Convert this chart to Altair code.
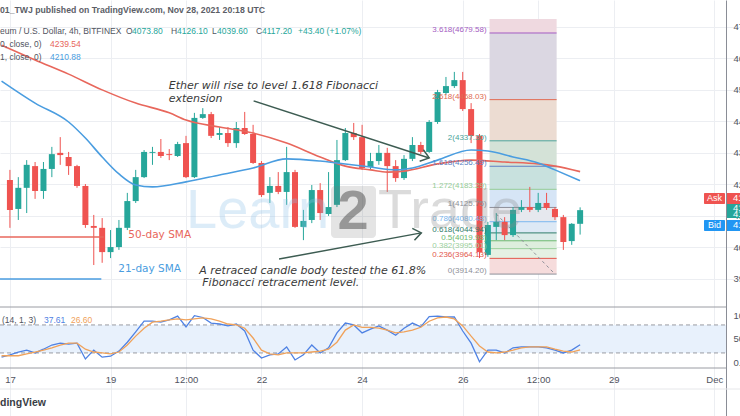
import altair as alt
import pandas as pd

# ETH/USD 4h bars (BITFINEX); bar 0 opens 2021-11-17 00:00 UTC
START = pd.Timestamp("2021-11-17 00:00")


def ts(bar):
    return (START + pd.Timedelta(hours=4 * bar)).strftime("%Y-%m-%dT%H:%M:%SZ")


opens = [4213, 4121, 4188, 4257, 4178, 4248, 4299, 4286, 4257, 4194, 4067, 4061,
         3984, 4000, 4061, 4146, 4222, 4299, 4302, 4295, 4289, 4330, 4222, 4410,
         4422, 4356, 4362, 4330, 4378, 4359, 4267, 4172, 4194, 4175, 4238, 4064,
         4086, 4181, 4105, 4134, 4276, 4362, 4349, 4254, 4273, 4299, 4257, 4219,
         4280, 4324, 4302, 4397, 4489, 4511, 4530, 4438, 4353, 3975, 4064, 4080,
         4038, 4118, 4127, 4118, 4140, 4121, 4095, 4019, 4073.8]
highs = [4245, 4222, 4276, 4270, 4270, 4318, 4349, 4302, 4261, 4200, 4102, 4092,
         4054, 4086, 4172, 4245, 4308, 4318, 4343, 4311, 4334, 4353, 4426, 4441,
         4429, 4381, 4381, 4397, 4429, 4388, 4273, 4222, 4238, 4318, 4245, 4118,
         4197, 4203, 4238, 4340, 4378, 4394, 4388, 4299, 4324, 4315, 4276, 4292,
         4349, 4334, 4403, 4499, 4540, 4556, 4556, 4457, 4359, 4080, 4108, 4095,
         4127, 4149, 4191, 4172, 4172, 4127, 4102, 4076, 4126.1]
lows = [4061, 4086, 4108, 4153, 4153, 4222, 4261, 4229, 4188, 4061, 3943, 3950,
        3965, 3991, 4054, 4140, 4219, 4261, 4283, 4276, 4286, 4219, 4219, 4407,
        4346, 4340, 4318, 4315, 4356, 4264, 4159, 4140, 4168, 4134, 4061, 4022,
        4076, 4086, 4099, 4127, 4273, 4340, 4245, 4245, 4261, 4175, 4207, 4213,
        4273, 4295, 4299, 4391, 4483, 4505, 4432, 4330, 3965, 3969, 4022, 4022,
        4032, 4111, 4111, 4111, 4118, 4086, 3991, 4007, 4039.6]
closes = [4118, 4188, 4261, 4178, 4248, 4295, 4292, 4257, 4194, 4070, 4061, 3984,
          4000, 4061, 4146, 4222, 4302, 4302, 4289, 4292, 4327, 4222, 4410, 4422,
          4353, 4362, 4330, 4378, 4359, 4267, 4165, 4194, 4175, 4238, 4064, 4083,
          4181, 4108, 4127, 4276, 4362, 4349, 4251, 4273, 4299, 4257, 4219, 4280,
          4324, 4302, 4397, 4492, 4511, 4530, 4438, 4353, 3984, 4070, 4080, 4038,
          4118, 4127, 4118, 4140, 4124, 4095, 4016, 4073.8, 4117.2]

# moving averages, sampled at bar positions
sma50_bar = [-1, 3, 7, 11, 15, 19, 21, 25, 29, 33, 37, 40, 43, 45, 47, 51, 55, 59, 63, 65, 68]
sma50 = [4641, 4594, 4549, 4499, 4457, 4426, 4403, 4381, 4362, 4330, 4286, 4257, 4245,
         4238, 4241, 4264, 4276, 4270, 4264, 4257, 4239.54]
sma21_bar = [-1, 3, 7, 9, 11, 13, 15, 17, 21, 25, 29, 33, 37, 39, 43, 46, 48, 51, 55, 57, 60, 63, 65, 68]
sma21 = [4527, 4457, 4397, 4346, 4286, 4232, 4197, 4191, 4207, 4229, 4251, 4280, 4273,
         4267, 4254, 4245, 4251, 4276, 4308, 4305, 4286, 4267, 4245, 4210.88]

# stochastic (14, 1, 3), bars -1 .. 68
stoch_k = [11, 16, 22, 26, 20, 28, 37, 41, 39, 41, 7, 26, 11, 13, 24, 43, 65, 88, 88, 86,
           91, 99, 76, 100, 96, 84, 82, 78, 82, 67, 26, 9, 16, 18, 33, 5, 16, 37, 20, 31,
           63, 84, 80, 63, 71, 78, 69, 58, 73, 84, 76, 98, 99, 97, 97, 67, 41, 1, 26, 26,
           20, 31, 33, 33, 33, 31, 26, 20, 26, 37.61]
stoch_d = [14, 14, 14, 18, 22, 26, 31, 37, 41, 41, 28, 22, 20, 18, 22, 37, 56, 73, 86, 88,
           91, 93, 91, 93, 95, 93, 88, 82, 80, 73, 52, 26, 18, 16, 20, 20, 20, 22, 24, 28,
           43, 69, 80, 75, 75, 73, 69, 63, 65, 69, 75, 88, 95, 97, 93, 78, 56, 35, 22, 20,
           22, 26, 31, 33, 33, 33, 28, 24, 22, 26.60]

# trend-based Fibonacci extension
fib_ratio = ["0", "0.236", "0.382", "0.5", "0.618", "0.786", "1", "1.272", "1.618",
             "2", "2.618", "3.618", "4.236"]
fib_price = [3914.20, 3964.13, 3995.01, 4019.98, 4044.94, 4080.48, 4125.75, 4183.29,
             4256.49, 4337.30, 4468.03, 4679.58, 4810.32]
fib_line_color = ["#8d8f98", "#e2574c", "#9bcf9c", "#6cb86f", "#2f7d6a", "#7ab6ee",
                  "#8d8f98", "#95cc96", "#5b7fc4", "#4ba39a", "#e06a52", "#a45cc2", "#e0508a"]
fib_fill = ["#f6dcdc", "#e5f1e3", "#ddeedd", "#dbebe8", "#dde9f5", "#e6e8ee",
            "#d6e5f6", "#c8e1de", "#d4e2d7", "#ecdcd2", "#dbd7e2", "#efd9e0"]
fib_start, fib_end = "2021-11-26T12:48:00Z", "2021-11-27T20:48:00Z"
pane_top_price = 4724

UP, DOWN = "#26a69a", "#ef5350"
RED_MA, BLUE_MA = "#e8675c", "#4a9de0"
K_COLOR, D_COLOR = "#4f82e3", "#f0a25a"
UI_FONT = "Liberation Sans"
NOTE_FONT = "DejaVu Sans"
TEXT = "#50535e"

# ---- scales and axes -------------------------------------------------------
X_SCALE = alt.Scale(
    type="utc",
    domain=[alt.DateTime(year=2021, month=11, date=16, hours=21, minutes=39, utc=True),
            alt.DateTime(year=2021, month=12, date=1, hours=9, minutes=53, utc=True)],
)
tick_days = [(11, 17, 0), (11, 19, 0), (11, 20, 12), (11, 22, 0), (11, 24, 0),
             (11, 26, 0), (11, 27, 12), (11, 29, 0), (12, 1, 0)]
X_AXIS = alt.Axis(
    orient="bottom", offset=-48, title=None, domain=False, ticks=False,
    values=[alt.DateTime(year=2021, month=m, date=d, hours=h, utc=True) for m, d, h in tick_days],
    labelExpr="utchours(datum.value) == 12 ? '12:00' : (utcdate(datum.value) == 1 ? 'Dec' : utcFormat(datum.value, '%-d'))",
    labelFont=UI_FONT, labelFontSize=9.5, labelColor=TEXT, labelPadding=6, labelFlush=False,
    grid=True, gridColor="#eceef2",
)


def X(field="time"):
    return alt.X(f"{field}:T", scale=X_SCALE, axis=X_AXIS)


PRICE = alt.Scale(domain=[3463.7, 4784.3], nice=False, zero=False)
PRICE_AXIS = alt.Axis(
    orient="right", offset=-14, title=None, values=list(range(3900, 4701, 100)),
    format=".2f", domain=True, domainColor="#8a8d96", ticks=False, labelPadding=7,
    labelFont=UI_FONT, labelFontSize=9.5, labelColor=TEXT, labelFlush=False,
    grid=True, gridColor="#eceef2",
)


def PY(field):
    return alt.Y(f"{field}:Q", scale=PRICE, axis=PRICE_AXIS)


STOCH = alt.Scale(domain=[-115.1, 776.3], nice=False, zero=False)
STOCH_AXIS = alt.Axis(
    orient="right", offset=-14, title=None, values=[0, 50, 100], format=".2f",
    domain=False, ticks=False, labelPadding=7, labelFont=UI_FONT, labelFontSize=9.5,
    labelColor=TEXT, labelFlush=False, grid=False,
)


def SY(field):
    return alt.Y(f"{field}:Q", scale=STOCH, axis=STOCH_AXIS)


ONE = alt.Data(values=[{"a": 1}])


def px_text(text, x, y, size=8.5, color=TEXT, align="left", weight="normal",
            font=UI_FONT, style="normal", opacity=1.0, baseline="middle"):
    return alt.Chart(ONE).mark_text(
        text=text, align=align, baseline=baseline, fontSize=size, color=color,
        fontWeight=weight, font=font, fontStyle=style, opacity=opacity,
    ).encode(x=alt.value(x), y=alt.value(y))


# ---- tables ----------------------------------------------------------------
candles = pd.DataFrame({
    "time": [ts(i) for i in range(len(opens))],
    "open": opens, "high": highs, "low": lows, "close": closes,
})
candles["color"] = [UP if c >= o else DOWN for o, c in zip(opens, closes)]

ma = pd.concat([
    pd.DataFrame({"time": [ts(b) for b in sma50_bar], "value": sma50, "series": "sma50"}),
    pd.DataFrame({"time": [ts(b) for b in sma21_bar], "value": sma21, "series": "sma21"}),
])

stoch = pd.DataFrame({
    "time": [ts(i - 1) for i in range(len(stoch_k))],
    "k": stoch_k, "d": stoch_d,
})

bands = pd.DataFrame({
    "start": fib_start, "end": fib_end,
    "lo": fib_price[:-1],
    "hi": [min(p, pane_top_price) for p in fib_price[1:]],
    "fill": fib_fill,
})
levels = pd.DataFrame({
    "start": fib_start, "end": fib_end, "price": fib_price[:-1],
    "color": fib_line_color[:-1],
    "label": [f"{r}({p:.2f})" for r, p in zip(fib_ratio[:-1], fib_price[:-1])],
})

fib_trend = pd.DataFrame({"time": [ts(58), ts(65)], "price": [4105, 3914.2]})

arrows = pd.DataFrame({
    "id": [1, 1, 2, 2],
    "time": ["2021-11-21T20:15:00Z", "2021-11-25T08:00:00Z",
             "2021-11-22T08:24:00Z", "2021-11-25T04:15:00Z"],
    "price": [4464, 4283, 3962, 4045],
})
heads = pd.DataFrame({
    "time": ["2021-11-25T08:00:00Z", "2021-11-25T04:15:00Z"],
    "price": [4283, 4045],
    "angle": [17.8, 349.8],
})

notes = pd.DataFrame({
    "time": ["2021-11-20T03:45:00Z", "2021-11-20T03:45:00Z",
             "2021-11-20T18:20:00Z", "2021-11-20T19:45:00Z"],
    "price": [4502, 4462, 3914, 3876],
    "text": ["Ether will rise to level 1.618 Fibonacci", "extension",
             "A retraced candle body tested the 61.8%", "Fibonacci retracement level."],
})

legend_lines = pd.DataFrame({
    "time": [ts(-1.5), ts(11.2), ts(-1.5), ts(10.9)],
    "price": [4032, 4032, 3898.6, 3898.6],
    "series": ["sma50", "sma50", "sma21", "sma21"],
})
legend_text = pd.DataFrame({
    "time": ["2021-11-19T08:30:00Z", "2021-11-19T03:40:00Z"],
    "price": [4038, 3930],
    "text": ["50-day SMA", "21-day SMA"],
    "color": [RED_MA, BLUE_MA],
})

ma_colors = alt.Scale(domain=["sma50", "sma21"], range=[RED_MA, BLUE_MA])

# price-axis tags
tags = pd.DataFrame({
    "top": [4171.6, 4136.7, 4085.9],
    "bottom": [4136.7, 4092.3, 4051.0],
    "color": ["#ef5350", "#26a69a", "#2196f3"],
})
tag_text = pd.DataFrame({
    "price": [4154.2, 4124.0, 4105.0, 4068.5],
    "text": ["4117.30", "4117.20", "4108.10", "4117.10"],
})
side_tags = pd.DataFrame({
    "top": [4171.6, 4085.9], "bottom": [4136.7, 4051.0],
    "color": ["#ef5350", "#2196f3"],
    "mid": [4154.2, 4068.5], "text": ["Ask", "Bid"],
})

# ---- price pane ------------------------------------------------------------
band_layer = alt.Chart(bands).mark_rect().encode(
    x=X("start"), x2="end:T", y=PY("lo"), y2="hi:Q",
    color=alt.Color("fill:N", scale=None),
)
level_layer = alt.Chart(levels).mark_rule(strokeWidth=1).encode(
    x=X("start"), x2="end:T", y=PY("price"), color=alt.Color("color:N", scale=None),
)
level_labels = alt.Chart(levels).mark_text(
    align="right", baseline="alphabetic", dx=-3, dy=-1, fontSize=8, font=UI_FONT,
).encode(x=X("start"), y=PY("price"), text="label:N", color=alt.Color("color:N", scale=None))
trend_layer = alt.Chart(fib_trend).mark_line(
    color="#8d8f98", strokeDash=[3, 3], strokeWidth=1
).encode(x=X(), y=PY("price"))

wicks = alt.Chart(candles).mark_rule(strokeWidth=1).encode(
    x=X(), y=PY("low"), y2="high:Q", color=alt.Color("color:N", scale=None),
)
bodies = alt.Chart(candles).mark_bar(size=6).encode(
    x=X(), y=PY("open"), y2="close:Q", color=alt.Color("color:N", scale=None),
)
ma_layer = alt.Chart(ma).mark_line(strokeWidth=1.6, interpolate="monotone").encode(
    x=X(), y=PY("value"), detail="series:N",
    color=alt.Color("series:N", scale=ma_colors, legend=None),
)
legend_line_layer = alt.Chart(legend_lines).mark_line(strokeWidth=1.6).encode(
    x=X(), y=PY("price"), detail="series:N",
    color=alt.Color("series:N", scale=ma_colors, legend=None),
)
legend_text_layer = alt.Chart(legend_text).mark_text(
    align="left", baseline="middle", fontSize=10.5, font=NOTE_FONT,
).encode(x=X(), y=PY("price"), text="text:N", color=alt.Color("color:N", scale=None))

arrow_layer = alt.Chart(arrows).mark_line(color="#3d5c52", strokeWidth=1.5).encode(
    x=X(), y=PY("price"), detail="id:N",
)
head_layer = alt.Chart(heads).mark_point(
    shape="M-1,-0.75L0,0L-1,0.75", filled=False, size=260, color="#3d5c52",
    strokeWidth=1.5, opacity=1,
).encode(x=X(), y=PY("price"), angle=alt.Angle("angle:Q", scale=None))
note_layer = alt.Chart(notes).mark_text(
    align="left", baseline="alphabetic", fontSize=11, font=NOTE_FONT,
    fontStyle="italic", color="#3a3a3a",
).encode(x=X(), y=PY("price"), text="text:N")

tag_rects = alt.Chart(tags).mark_rect().encode(
    x=alt.value(727), x2=alt.value(745), y=PY("top"), y2="bottom:Q",
    color=alt.Color("color:N", scale=None),
)
tag_labels = alt.Chart(tag_text).mark_text(
    align="left", baseline="middle", fontSize=9.5, font=UI_FONT, color="white",
).encode(x=alt.value(733), y=PY("price"), text="text:N")
side_rects = alt.Chart(side_tags).mark_rect(cornerRadius=1).encode(
    x=alt.value(704), x2=alt.value(725), y=PY("top"), y2="bottom:Q",
    color=alt.Color("color:N", scale=None),
)
side_labels = alt.Chart(side_tags).mark_text(
    align="center", baseline="middle", fontSize=9, font=UI_FONT, color="white",
).encode(x=alt.value(714.5), y=PY("mid"), text="text:N")

# Learn2Trade watermark, drawn over the candles
watermark = [
    px_text("Learn", 186, 228, size=56, color="#8ec2ea", opacity=0.3, baseline="alphabetic"),
    alt.Chart(ONE).mark_rect(color="#7a7a7a", opacity=0.2, cornerRadius=4).encode(
        x=alt.value(331), x2=alt.value(376), y=alt.value(186), y2=alt.value(238)),
    px_text("2", 353, 229, size=56, color="#3c3c3c", opacity=0.45, align="center",
            weight="bold", baseline="alphabetic"),
    px_text("Trade", 378, 228, size=56, color="#8a8a8a", opacity=0.3, baseline="alphabetic"),
]

price_group = alt.layer(
    band_layer, level_layer, trend_layer, wicks, bodies, ma_layer, level_labels,
    legend_line_layer, legend_text_layer, arrow_layer, head_layer, note_layer,
    *watermark, side_rects, side_labels, tag_rects, tag_labels,
)

# ---- stochastic pane -------------------------------------------------------
stoch_band = alt.Chart(pd.DataFrame({"lo": [20], "hi": [80]})).mark_rect(
    color="#e8f1fc").encode(x=alt.value(0), x2=alt.value(726), y=SY("lo"), y2="hi:Q")
stoch_lines = alt.Chart(pd.DataFrame({"v": [20, 80]})).mark_rule(
    color="#9a9ca3", strokeDash=[4, 3], strokeWidth=1).encode(
    x=alt.value(0), x2=alt.value(726), y=SY("v"))
k_line = alt.Chart(stoch).mark_line(color=K_COLOR, strokeWidth=1.3).encode(x=X(), y=SY("k"))
d_line = alt.Chart(stoch).mark_line(color=D_COLOR, strokeWidth=1.3).encode(x=X(), y=SY("d"))


def hrule(y, color, x2=726.0, width=1.0):
    return alt.Chart(ONE).mark_rule(color=color, strokeWidth=width).encode(
        x=alt.value(0), x2=alt.value(x2), y=alt.value(y))


overlay = [
    hrule(307, "#9a9ca3"),
    hrule(368, "#9a9ca3"),
    hrule(389, "#e6e7ea", x2=740),
    px_text("01_TWJ published on TradingView.com, Nov 28, 2021 20:18 UTC", 0, 10,
            size=8.7, weight="bold", color="#5b5e66"),
    px_text("eum / U.S. Dollar, 4h, BITFINEX", 0, 31),
    px_text("O", 126, 31), px_text("4073.80", 132, 31, color=UP),
    px_text("H", 171, 31), px_text("4126.10", 177, 31, color=UP),
    px_text("L", 212, 31), px_text("4039.60", 217, 31, color=UP),
    px_text("C", 256, 31), px_text("4117.20", 262, 31, color=UP),
    px_text("+43.40 (+1.07%)", 298, 31, color=UP),
    px_text("0, close, 0)", 0, 44), px_text("4239.54", 50, 44, color=RED_MA),
    px_text("1, close, 0)", 0, 57), px_text("4210.88", 50, 57, color=BLUE_MA),
    px_text("(14, 1, 3)", 2, 320), px_text("37.61", 44, 320, color=K_COLOR),
    px_text("26.60", 71, 320, color=D_COLOR),
    px_text("dingView", 0, 403, size=10.5, weight="bold", color="#3a3d45"),
]

stoch_group = alt.layer(stoch_band, stoch_lines, k_line, d_line, *overlay)

chart = (
    alt.layer(price_group, stoch_group)
    .resolve_scale(y="independent")
    .properties(width=740, height=416, padding=0,
                autosize=alt.AutoSizeParams(type="none"), background="white")
    .configure_view(stroke=None)
)

chart.save("out.html", embed_options={"renderer": "svg", "actions": False})
